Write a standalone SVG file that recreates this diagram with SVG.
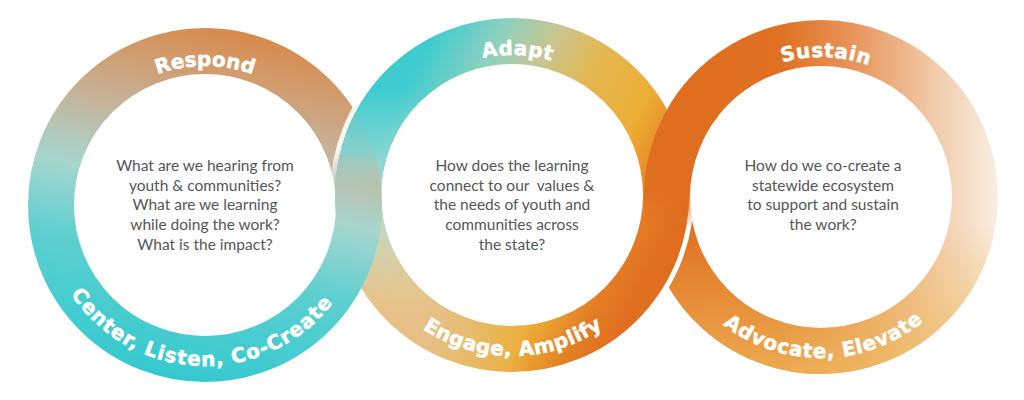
<svg xmlns="http://www.w3.org/2000/svg" xmlns:xlink="http://www.w3.org/1999/xlink" width="1024" height="400" viewBox="0 0 1024 400">
<defs>
<style>
.band{fill:none;stroke-width:46}
.gap{fill:none;stroke:#fff;stroke-width:5}
.lbl{font-family:"DejaVu Sans",sans-serif;font-weight:bold;font-size:20px;fill:#fff;stroke:#fff;stroke-width:0.5}
.q{font-family:Lato,"Open Sans",sans-serif;font-size:15.5px;fill:#555658;text-anchor:middle}
</style>
<linearGradient id="gL" gradientUnits="userSpaceOnUse" x1="250" y1="28" x2="170" y2="382">
<stop offset="0" stop-color="#DA8746"/>
<stop offset="0.28" stop-color="#C6B299"/>
<stop offset="0.47" stop-color="#A6D6CF"/>
<stop offset="0.68" stop-color="#5CCFD0"/>
<stop offset="1" stop-color="#33C9CF"/>
</linearGradient>
<linearGradient id="gM" gradientUnits="userSpaceOnUse" x1="420" y1="60" x2="690" y2="200">
<stop offset="0" stop-color="#3ECCD1"/>
<stop offset="0.2" stop-color="#8FD0BE"/>
<stop offset="0.36" stop-color="#C9C58E"/>
<stop offset="0.52" stop-color="#E4B752"/>
<stop offset="0.72" stop-color="#EDAE35"/>
<stop offset="0.88" stop-color="#E47E25"/>
<stop offset="1" stop-color="#E06E1F"/>
</linearGradient>
<linearGradient id="gMv" gradientUnits="userSpaceOnUse" x1="0" y1="90" x2="0" y2="373">
<stop offset="0" stop-color="#A8DDD6" stop-opacity="0"/>
<stop offset="0.25" stop-color="#A0D8D2" stop-opacity="0.75"/>
<stop offset="0.5" stop-color="#D6D6B6" stop-opacity="0.85"/>
<stop offset="0.75" stop-color="#E8C28A" stop-opacity="1"/>
<stop offset="1" stop-color="#E8BE80" stop-opacity="1"/>
</linearGradient>
<linearGradient id="gMmask" gradientUnits="userSpaceOnUse" x1="330" y1="0" x2="530" y2="0">
<stop offset="0" stop-color="#fff"/>
<stop offset="0.45" stop-color="#fff"/>
<stop offset="1" stop-color="#000"/>
</linearGradient>
<mask id="mM" maskUnits="userSpaceOnUse" x="0" y="0" width="1024" height="400">
<rect x="0" y="0" width="1024" height="400" fill="url(#gMmask)"/>
</mask>
<linearGradient id="gFadeTL" gradientUnits="userSpaceOnUse" x1="0" y1="150" x2="0" y2="192">
<stop offset="0" stop-color="#fff"/>
<stop offset="1" stop-color="#000"/>
</linearGradient>
<mask id="mTL" maskUnits="userSpaceOnUse" x="0" y="0" width="1024" height="400">
<rect x="300" y="0" width="140" height="200" fill="url(#gFadeTL)"/>
</mask>
<linearGradient id="gFadeTR" gradientUnits="userSpaceOnUse" x1="0" y1="190" x2="0" y2="228">
<stop offset="0" stop-color="#fff"/>
<stop offset="1" stop-color="#000"/>
</linearGradient>
<mask id="mTR" maskUnits="userSpaceOnUse" x="0" y="0" width="1024" height="400">
<rect x="600" y="0" width="120" height="240" fill="url(#gFadeTR)"/>
</mask>
<linearGradient id="gR" gradientUnits="userSpaceOnUse" x1="690" y1="0" x2="998" y2="0">
<stop offset="0" stop-color="#E06E1F"/>
<stop offset="0.3" stop-color="#E07122"/>
<stop offset="0.55" stop-color="#E89860"/>
<stop offset="0.8" stop-color="#F1CCAC"/>
<stop offset="1" stop-color="#F9EFE3"/>
</linearGradient>
<linearGradient id="gRy" gradientUnits="userSpaceOnUse" x1="0" y1="220" x2="0" y2="374">
<stop offset="0" stop-color="#F0BE5E" stop-opacity="0"/>
<stop offset="1" stop-color="#F0BE5E" stop-opacity="0.75"/>
</linearGradient>
<path id="pLt" d="M66,205 A139,139 0 0 1 344,205"/>
<path id="pLb" d="M44,205 A161,161 0 0 0 366,205"/>
<path id="pMt" d="M372,195 A140,140 0 0 1 652,195"/>
<path id="pMb" d="M351,195 A161,161 0 0 0 673,195"/>
<path id="pRt" d="M681,197 A140,140 0 0 1 961,197"/>
<path id="pRb" d="M660,197 A161,161 0 0 0 982,197"/>
</defs>

<g id="sustain">
<g id="sustain-ring">
<circle class="band" cx="821" cy="197" r="154" stroke="url(#gR)"/>
<circle class="band" cx="821" cy="197" r="154" stroke="url(#gRy)"/>
</g>
<text class="lbl" letter-spacing="0.5"><textPath xlink:href="#pRt" href="#pRt" startOffset="51.1%" text-anchor="middle">Sustain</textPath></text>
<text class="lbl" letter-spacing="0.8"><textPath xlink:href="#pRb" href="#pRb" startOffset="50.6%" text-anchor="middle">Advocate, Elevate</textPath></text>
<text class="q" x="823" y="171">How do we co-create a</text>
<text class="q" x="823" y="190.7">statewide ecosystem</text>
<text class="q" x="823" y="210.4">to support and sustain</text>
<text class="q" x="823" y="230.1">the work?</text>
</g>

<g id="adapt">
<g id="adapt-ring">
<circle class="gap" cx="512" cy="195" r="179.5"/>
<circle class="band" cx="512" cy="195" r="154" stroke="url(#gM)"/>
<circle class="band" cx="512" cy="195" r="154" stroke="url(#gMv)" mask="url(#mM)"/>
</g>
<text class="lbl" letter-spacing="0.5"><textPath xlink:href="#pMt" href="#pMt" startOffset="51.25%" text-anchor="middle">Adapt</textPath></text>
<text class="lbl" letter-spacing="0.5"><textPath xlink:href="#pMb" href="#pMb" startOffset="50.2%" text-anchor="middle">Engage, Amplify</textPath></text>
<text class="q" x="512" y="171">How does the learning</text>
<text class="q" x="512" y="190.7">connect to our&#160; values &amp;</text>
<text class="q" x="512" y="210.4">the needs of youth and</text>
<text class="q" x="512" y="230.1">communities across</text>
<text class="q" x="512" y="249.8">the state?</text>
</g>

<g id="respond">
<g id="respond-ring">
<circle class="band" cx="205" cy="205" r="154" stroke="url(#gL)"/>
</g>
<text class="lbl"><textPath xlink:href="#pLt" href="#pLt" startOffset="50%" text-anchor="middle">Respond</textPath></text>
<text class="lbl" letter-spacing="1"><textPath xlink:href="#pLb" href="#pLb" startOffset="49%" text-anchor="middle">Center, Listen, Co-Create</textPath></text>
<text class="q" x="205" y="171">What are we hearing from</text>
<text class="q" x="205" y="190.7">youth &amp; communities?</text>
<text class="q" x="205" y="210.4">What are we learning</text>
<text class="q" x="205" y="230.1">while doing the work?</text>
<text class="q" x="205" y="249.8">What is the impact?</text>
</g>

<g id="interlocks">
<g mask="url(#mTL)" opacity="0.9"><use xlink:href="#adapt-ring" href="#adapt-ring"/></g>
<g mask="url(#mTR)"><use xlink:href="#sustain-ring" href="#sustain-ring"/></g>
</g>
</svg>
